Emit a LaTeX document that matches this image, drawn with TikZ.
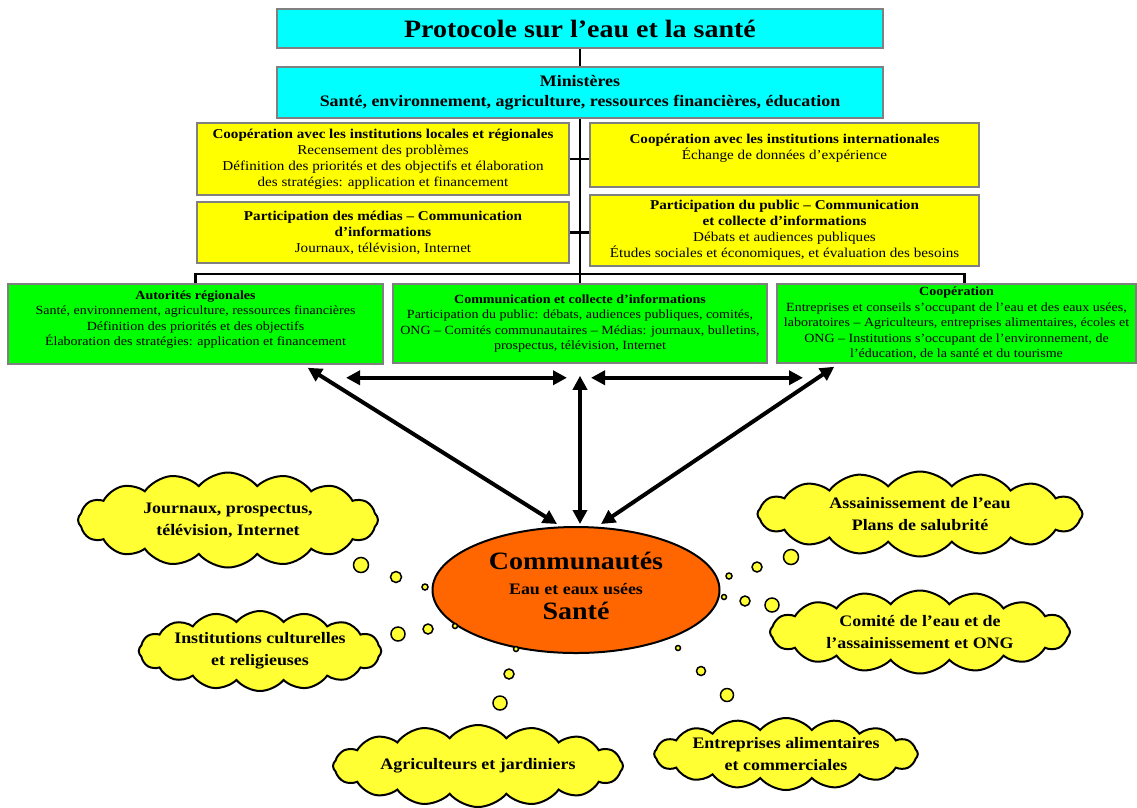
\documentclass[tikz,border=0pt]{standalone}
\usepackage{fontspec}
\setmainfont{Liberation Serif}[FakeStretch=1.12]
\usepackage{tikz}
\usetikzlibrary{arrows.meta,shapes.geometric,shapes.symbols}

\definecolor{boxcyan}{RGB}{0,255,255}
\definecolor{boxyellow}{RGB}{255,255,0}
\definecolor{boxgreen}{RGB}{0,255,0}
\definecolor{cloudyellow}{RGB}{255,255,51}
\definecolor{commorange}{RGB}{255,102,0}

\begin{document}
\begin{tikzpicture}[x=1pt,y=-1pt,
  box/.style={draw=gray,line width=1.5pt,align=center,inner sep=1pt},
  bluebox/.style={box,fill=boxcyan},
  yelbox/.style={box,fill=boxyellow,font=\fontsize{13.5}{16}\selectfont},
  grnbox/.style={box,fill=boxgreen,font=\fontsize{12.5}{15.5}\selectfont},
  cloudy/.style={cloud,cloud puffs=16,cloud puff arc=100,cloud ignores aspect,draw,line width=2pt,fill=cloudyellow,inner sep=0pt,align=center,font=\fontsize{16}{22}\selectfont\bfseries},
  bubble/.style={draw,line width=1.5pt,fill=cloudyellow},
  link/.style={line width=2.5pt},
  bigarrow/.style={line width=4pt,{Triangle[length=14pt,width=14pt]}-{Triangle[length=14pt,width=14pt]}}]
\useasboundingbox (0,0) rectangle (1137,807);

\draw (580,28.5) node (title) [bluebox,minimum width=606pt,minimum height=39pt,font=\fontsize{25}{28}\selectfont\bfseries] {Protocole sur l’eau et la santé};
\draw (580,92.5) node (mini) [bluebox,minimum width=606pt,minimum height=51pt,font=\fontsize{16}{20}\selectfont\bfseries] {Ministères\\Santé, environnement, agriculture, ressources financières, éducation};
\draw[link] (title) -- (mini);

\draw (383,159) node (loc) [yelbox,minimum width=372pt,minimum height=72pt] {\textbf{Coopération avec les institutions locales et régionales}\\Recensement des problèmes\\Définition des priorités et des objectifs et élaboration\\des stratégies: application et financement};
\draw (383,232.5) node (med) [yelbox,minimum width=372pt,minimum height=61pt] {\textbf{Participation des médias – Communication}\\\textbf{d’informations}\\Journaux, télévision, Internet};
\draw (784.5,155) node (intl) [yelbox,minimum width=389pt,minimum height=64pt] {\textbf{Coopération avec les institutions internationales}\\Échange de données d’expérience\\~};
\draw (784.5,230.5) node (pub) [yelbox,minimum width=389pt,minimum height=71pt] {\textbf{Participation du public – Communication}\\\textbf{et collecte d’informations}\\Débats et audiences publiques\\Études sociales et économiques, et évaluation des besoins};

\draw (195.5,324) node (reg) [grnbox,minimum width=375pt,minimum height=80pt] {\textbf{Autorités régionales}\\Santé, environnement, agriculture, ressources financières\\Définition des priorités et des objectifs\\Élaboration des stratégies: application et financement\\[-3.5pt]};
\draw (580,323.5) node (com) [grnbox,minimum width=374pt,minimum height=79pt] {\textbf{Communication et collecte d’informations}\\Participation du public: débats, audiences publiques, comités,\\ONG – Comités communautaires – Médias: journaux, bulletins,\\prospectus, télévision, Internet};
\draw (956.5,323.5) node (coop) [grnbox,minimum width=359pt,minimum height=79pt] {\textbf{Coopération}\\Entreprises et conseils s’occupant de l’eau et des eaux usées,\\laboratoires – Agriculteurs, entreprises alimentaires, écoles et\\ONG – Institutions s’occupant de l’environnement, de\\l’éducation, de la santé et du tourisme};

\draw[link] (mini) -- (com);
\draw[link] (loc.east) -- (loc.east -| intl.west);
\draw[link] (med.east) -- (med.east -| pub.west);
\coordinate (bus) at (580,274);
\draw[link] (reg.north) |- (bus) -| ([xshift=8pt]coop.north);

\draw (228,520) node (news) [cloudy,minimum width=300pt,minimum height=95pt] {Journaux, prospectus,\\télévision, Internet};
\draw (260,651) node (cult) [cloudy,minimum width=235pt,minimum height=80pt] {Institutions culturelles\\et religieuses};
\draw (478,766) node (agri) [cloudy,minimum width=290pt,minimum height=82pt] {Agriculteurs et jardiniers};
\draw (920,514) node (sani) [cloudy,minimum width=325pt,minimum height=85pt] {Assainissement de l’eau\\Plans de salubrité};
\draw (920,632) node (comi) [cloudy,minimum width=300pt,minimum height=83pt] {Comité de l’eau et de\\l’assainissement et ONG};
\draw (786,754) node (entr) [cloudy,minimum width=247pt,minimum height=72pt] {Entreprises alimentaires\\et commerciales};

\draw (576,590) node (comm) [ellipse,draw,line width=2pt,fill=commorange,minimum width=287pt,minimum height=126pt,inner sep=0pt,align=center,font=\fontsize{16}{25}\selectfont\bfseries] {{\fontsize{25}{25}\selectfont Communautés}\\Eau et eaux usées\\{\fontsize{25}{25}\selectfont Santé}\\[-17pt]};

\draw[bubble] (361,565) circle (7.5pt);
\draw[bubble] (396,577) circle (5.5pt);
\draw[bubble] (425,587) circle (3pt);
\draw[bubble] (398,634) circle (7pt);
\draw[bubble] (428,629) circle (5pt);
\draw[bubble] (455,626) circle (2.5pt);
\draw[bubble] (516,649) circle (2.5pt);
\draw[bubble] (509,674) circle (5pt);
\draw[bubble] (500,703) circle (7pt);
\draw[bubble] (678,648) circle (2.5pt);
\draw[bubble] (701,671) circle (4.5pt);
\draw[bubble] (727,695) circle (6.5pt);
\draw[bubble] (724,597) circle (2.5pt);
\draw[bubble] (745,601) circle (5pt);
\draw[bubble] (772,605) circle (7pt);
\draw[bubble] (729,576) circle (3pt);
\draw[bubble] (757,567) circle (5pt);
\draw[bubble] (791,557) circle (7.5pt);

\draw[bigarrow] ([xshift=-76pt,yshift=-3pt]reg.south east) -- ([xshift=-19pt,yshift=2pt]comm.north);
\draw[bigarrow] ([yshift=-12pt]com.south) -- ([xshift=4pt,yshift=2pt]comm.north);
\draw[bigarrow] ([xshift=58pt,yshift=-3pt]coop.south west) -- ([xshift=25pt,yshift=2pt]comm.north);
\draw[bigarrow] ([xshift=-234pt,yshift=-14pt]com.south) -- ([xshift=-13pt,yshift=-14pt]com.south);
\draw[bigarrow] ([xshift=11pt,yshift=-14pt]com.south) -- ([xshift=223pt,yshift=-14pt]com.south);
\end{tikzpicture}
\end{document}
